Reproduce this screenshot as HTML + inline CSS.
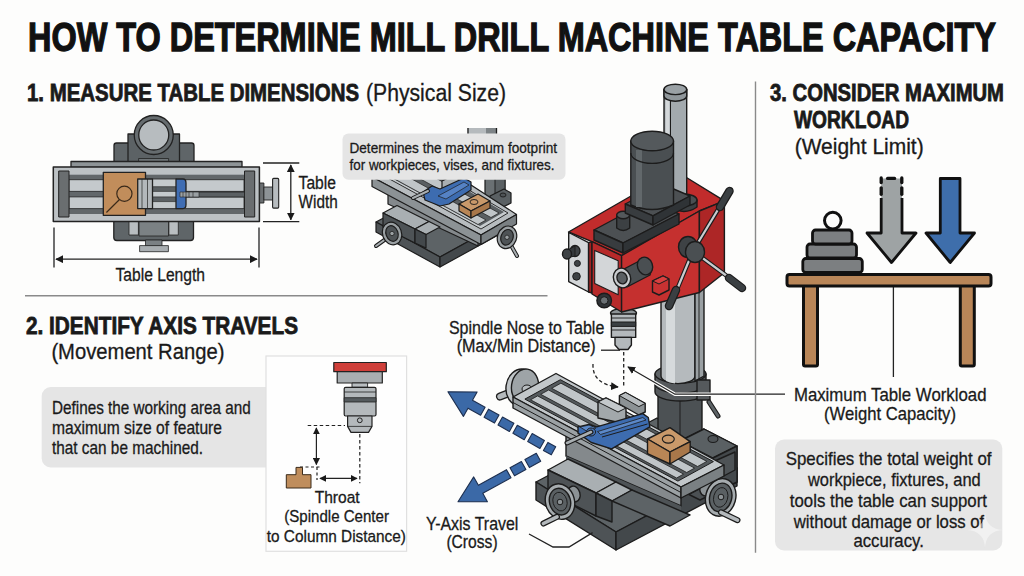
<!DOCTYPE html>
<html><head><meta charset="utf-8">
<style>
html,body{margin:0;padding:0;background:#fdfdfc;}
body{width:1024px;height:576px;overflow:hidden;position:relative;font-family:"Liberation Sans",sans-serif;}
svg{position:absolute;left:0;top:0;}
text{font-family:"Liberation Sans",sans-serif;fill:#1a1a1a;stroke:#1a1a1a;stroke-width:0.3px;}
.b{stroke-width:0.8px;}
.b{font-weight:bold;}
</style></head>
<body>
<svg width="1024" height="576" viewBox="0 0 1024 576">
<defs>
<marker id="ah" viewBox="0 0 10 10" refX="9" refY="5" markerWidth="6" markerHeight="6" orient="auto-start-reverse"><path d="M0,0 L10,5 L0,10 z" fill="#1a1a1a"/></marker>
</defs>
<rect x="0" y="0" width="1024" height="576" fill="#fdfdfc"/>

<!-- ============ TEXT HEADINGS ============ -->
<g id="headings">
<text class="b" x="28" y="51" font-size="40.5" textLength="968" lengthAdjust="spacingAndGlyphs" style="fill:#111;stroke:#111;stroke-width:1.3px">HOW TO DETERMINE MILL DRILL MACHINE TABLE CAPACITY</text>
<text class="b" x="27" y="100.5" font-size="24" textLength="332" lengthAdjust="spacingAndGlyphs">1. MEASURE TABLE DIMENSIONS</text>
<text x="366" y="100.5" font-size="23" textLength="140" lengthAdjust="spacingAndGlyphs">(Physical Size)</text>
<text class="b" x="26" y="333.8" font-size="24" textLength="272" lengthAdjust="spacingAndGlyphs">2. IDENTIFY AXIS TRAVELS</text>
<text x="51.4" y="359" font-size="21.5" textLength="173" lengthAdjust="spacingAndGlyphs">(Movement Range)</text>
<text class="b" x="770" y="100.5" font-size="24" textLength="234" lengthAdjust="spacingAndGlyphs">3. CONSIDER MAXIMUM</text>
<text class="b" x="794" y="128" font-size="24" textLength="115" lengthAdjust="spacingAndGlyphs">WORKLOAD</text>
<text x="794.7" y="154" font-size="21.5" textLength="129" lengthAdjust="spacingAndGlyphs">(Weight Limit)</text>
</g>


<!-- ============ SECTION 1 TABLE TOP VIEW ============ -->
<g id="sec1" stroke="#222" stroke-width="1.3" stroke-linejoin="round">
 <!-- column base -->
 <rect x="114" y="143" width="80" height="22" rx="2.5" fill="#5f6568"/>
 <rect x="128" y="134" width="51.5" height="30" fill="#5c6265"/>
 <rect x="138.6" y="158.5" width="30" height="4" fill="#6e7477" stroke-width="0.8"/>
 <circle cx="153.75" cy="135" r="19.5" fill="#666c6f"/>
 <circle cx="153.75" cy="135" r="15" fill="#b7bcbf"/>
 <!-- lower base -->
 <rect x="113.8" y="215" width="79.7" height="25.5" rx="3" fill="#5f6568"/>
 <rect x="129" y="219" width="9.4" height="16" fill="#b9bec1" stroke-width="0.8"/>
 <rect x="168.9" y="219" width="9.4" height="16" fill="#b9bec1" stroke-width="0.8"/>
 <rect x="139" y="219" width="29.5" height="17" fill="#7b8184" stroke-width="0.8"/>
 <rect x="145.5" y="240" width="16.5" height="6" fill="#7b8184" stroke-width="0.8"/>
 <rect x="139.6" y="245.6" width="28.8" height="6.1" fill="#a9aeb1" stroke-width="0.8"/>
 <!-- top strip -->
 <rect x="71" y="161.5" width="171" height="6" fill="#8d9396"/>
 <!-- table -->
 <rect x="53.3" y="167" width="206.1" height="54.5" fill="#bcc1c4" stroke-width="1.5"/>
 <rect x="58.7" y="174.7" width="191" height="39.3" fill="#62676a" stroke="none"/>
 <rect x="69" y="179.7" width="175" height="11.7" fill="#c4c9cc" stroke-width="0.8"/>
 <rect x="69" y="196.9" width="175" height="11.7" fill="#c4c9cc" stroke-width="0.8"/>
 <rect x="58.7" y="171" width="10.3" height="46" fill="#6a6e70" stroke-width="1"/>
 <rect x="244.5" y="171" width="10.2" height="46" fill="#6a6e70" stroke-width="1"/>
 <!-- workpiece -->
 <rect x="103.3" y="172.3" width="42.2" height="43" fill="#c18d5b"/>
 <circle cx="124.4" cy="193.7" r="7.6" fill="none" stroke="#3a2a1a" stroke-width="1.2"/>
 <line x1="119.5" y1="199.5" x2="106.4" y2="212.5" stroke="#3a2a1a" stroke-width="1.2"/>
 <!-- vise -->
 <rect x="152.5" y="179" width="24" height="29.6" fill="#c4c9cc" stroke-width="0.8"/>
 <rect x="152.5" y="186.7" width="24" height="4.7" fill="#5b6063" stroke-width="0.6"/>
 <rect x="152.5" y="196.9" width="24" height="4.7" fill="#5b6063" stroke-width="0.6"/>
 <rect x="137.7" y="179" width="14.8" height="29.6" fill="#b3b8bb"/>
 <line x1="142" y1="179" x2="142" y2="208.6" stroke-width="0.7"/>
 <line x1="147.5" y1="179" x2="147.5" y2="208.6" stroke-width="0.7"/>
 <path d="M176,179 H183 Q186,179 186,183 V204.6 Q186,208.6 183,208.6 H176 Z" fill="#3f6db3"/>
 <rect x="186" y="192" width="58.5" height="5" fill="#5b6063" stroke-width="0.8"/>
 <rect x="180" y="192" width="19" height="5" fill="#9aa0a3" stroke-width="0.6"/>
 <line x1="183" y1="192" x2="183" y2="197" stroke-width="0.6"/><line x1="186" y1="192" x2="186" y2="197" stroke-width="0.6"/><line x1="189" y1="192" x2="189" y2="197" stroke-width="0.6"/><line x1="193" y1="192" x2="193" y2="197" stroke-width="0.6"/>
 <!-- handwheel -->
 <rect x="259.6" y="183" width="4.3" height="20" fill="#6a6e70" stroke-width="0.9"/>
 <rect x="263.9" y="187" width="8.7" height="13" fill="#8d9396" stroke-width="0.9"/>
 <rect x="272.6" y="178.4" width="6.1" height="29.7" rx="1" fill="#b7bcbf" stroke-width="1.1"/>
</g>
<!-- dimension lines sec1 -->
<g stroke="#222" stroke-width="1.3" fill="none">
 <line x1="263" y1="163" x2="299.3" y2="163"/>
 <line x1="263" y1="221.7" x2="299.3" y2="221.7"/>
 <line x1="290.8" y1="165" x2="290.8" y2="219.7" marker-start="url(#ah)" marker-end="url(#ah)"/>
 <line x1="54" y1="227.6" x2="54" y2="267.4"/>
 <line x1="259" y1="227.6" x2="259" y2="267.4"/>
 <line x1="56" y1="259.2" x2="257" y2="259.2" marker-start="url(#ah)" marker-end="url(#ah)"/>
</g>
<text x="298.6" y="189.1" font-size="18" textLength="37.4" lengthAdjust="spacingAndGlyphs">Table</text>
<text x="298.6" y="207.7" font-size="18" textLength="39.1" lengthAdjust="spacingAndGlyphs">Width</text>
<text x="115.5" y="280.9" font-size="18" textLength="89.5" lengthAdjust="spacingAndGlyphs">Table Length</text>


<!-- ============ SECTION 3 ============ -->
<g id="sec3" stroke="#111" stroke-linejoin="round">
 <!-- table legs -->
 <rect x="803.5" y="284" width="14" height="82" rx="1.5" fill="#b98658" stroke-width="3"/>
 <rect x="960.3" y="284" width="14" height="82" rx="1.5" fill="#b98658" stroke-width="3"/>
 <line x1="893.4" y1="286" x2="893.4" y2="377" stroke="#222" stroke-width="1.3"/>
 <!-- table top -->
 <rect x="787" y="274.5" width="204" height="11.5" rx="2.5" fill="#b98658" stroke-width="3"/>
 <!-- weights -->
 <circle cx="832.8" cy="220.6" r="8.3" fill="#fdfdfc" stroke-width="3"/>
 <rect x="802.8" y="258.5" width="59.5" height="14" rx="3" fill="#7c7f81" stroke-width="2.8"/>
 <rect x="807" y="244" width="49.5" height="14" rx="3" fill="#7c7f81" stroke-width="2.8"/>
 <rect x="812.5" y="230" width="39.5" height="14" rx="3" fill="#7c7f81" stroke-width="2.8"/>
 <!-- gray arrow -->
 <path d="M881.2,178.5 H902 V233 H916 L891.5,262.5 L867,233 H881.2 Z" fill="#9ea3a4" stroke="none"/>
 <path d="M881.2,198 V233 H867 L891.5,262.5 L916,233 H902 V198" fill="none" stroke-width="2.8"/>
 <g stroke-width="3.3" stroke-linecap="round">
  <line x1="881.2" y1="178" x2="881.2" y2="182.5"/><line x1="901.8" y1="178" x2="901.8" y2="182.5"/>
  <line x1="887.6" y1="178.4" x2="894.6" y2="178.4"/>
  <line x1="881.2" y1="187.8" x2="881.2" y2="194.3"/><line x1="901.8" y1="187.8" x2="901.8" y2="194.3"/>
 </g>
 <!-- blue arrow -->
 <path d="M940.3,178.5 H960 V233 H974.5 L950.2,262.5 L926,233 H940.3 Z" fill="#3e6eab" stroke-width="2.8"/>
</g>
<line x1="676" y1="394.2" x2="785" y2="394.2" stroke="#222" stroke-width="1.3"/>
<text x="793.9" y="400.6" font-size="19" textLength="192.6" lengthAdjust="spacingAndGlyphs">Maximum Table Workload</text>
<text x="824" y="420.2" font-size="19" textLength="132" lengthAdjust="spacingAndGlyphs">(Weight Capacity)</text>
<rect x="775" y="439.5" width="227.3" height="111" rx="9" fill="#e6e6e6"/>
<g font-size="18.6">
<text x="785.7" y="464.7" textLength="205.8" lengthAdjust="spacingAndGlyphs">Specifies the total weight of</text>
<text x="808" y="485.5" textLength="172.7" lengthAdjust="spacingAndGlyphs">workpiece, fixtures, and</text>
<text x="789.8" y="506.6" textLength="197.2" lengthAdjust="spacingAndGlyphs">tools the table can support</text>
<text x="793.8" y="527.5" textLength="190.4" lengthAdjust="spacingAndGlyphs">without damage or loss of</text>
<text x="853.4" y="547.3" textLength="70.4" lengthAdjust="spacingAndGlyphs">accuracy.</text>
</g>
<path d="M985,512 Q986,529 1003,530 Q986,531 985,548 Q984,531 967,530 Q984,529 985,512 Z" fill="#fbfbfb" opacity="0.5"/>




<!-- ============ SMALL ISO MACHINE ============ -->
<g id="small" stroke="#1c1c1c" stroke-width="1.2" stroke-linejoin="round">
 <!-- column -->
 <rect x="467.5" y="128" width="29.5" height="10" fill="#b5babd" stroke="none"/>
 <rect x="486" y="128" width="11" height="10" fill="#7e8487" stroke="none"/>
 <line x1="468" y1="128" x2="468" y2="138" stroke-width="1.3"/><line x1="496.5" y1="128" x2="496.5" y2="138" stroke-width="1.3"/>
 <path d="M485,170 V200 H505 V170 Z" fill="#6a7073"/>
 <path d="M495,170 V200 H505 V170 Z" fill="#5a6063" stroke-width="0.9"/>
 <path d="M490,196 L504,189 L511,193 L511,203 L497,210 L490,206 Z" fill="#5a6063"/>
 <ellipse cx="503" cy="195" rx="3" ry="2" fill="#4e5356" stroke-width="0.9"/>
 <!-- base -->
 <path d="M376,222 L436,190 L500,224 L440,257 Z" fill="#5d6366"/>
 <path d="M376,222 L440,257 L440,267 L376,232 Z" fill="#4e5356"/>
 <path d="M440,257 L500,224 L500,234 L440,267 Z" fill="#43484b"/>
 <!-- saddle face under table -->
 <path d="M388,189 L478,237 L478,246 L388,204 Z" fill="#84898c"/>
 <!-- ways block -->
 <path d="M383,213 L397,205.5 L429,221.5 L415,229 Z" fill="#a9afb2"/>
 <path d="M383,213 L415,229 L415,243 L383,227 Z" fill="#4e5356"/>
 <path d="M415,229 L429,221.5 L440,227 L426,234.5 Z" fill="#a9afb2"/>
 <path d="M415,229 L426,234.5 L426,248 L415,243 Z" fill="#43484b"/>
 <!-- table -->
 <path d="M372,177 L420,152 L516.5,214.4 L481,235 Z" fill="#b7bcbf"/>
 <path d="M372,177 L481,235 L481,244.5 L372,186.5 Z" fill="#8c9295"/>
 <path d="M481,235 L516.5,214.4 L516.5,224 L481,244.5 Z" fill="#7a8083"/>
 <path d="M384,176 L416,159 L508,213 L481,229 Z" fill="#c6cbce" stroke-width="0.9"/>
 <path d="M388,176 L418,161 L504,212 L480,226 Z" fill="#5a5f62" stroke="none"/>
 <path d="M391,177 L400,172.5 L486,220 L478,224.5 Z" fill="#c0c5c8" stroke-width="0.7"/>
 <path d="M404,170 L413,165.5 L499,213 L491,217.5 Z" fill="#c0c5c8" stroke-width="0.7"/>
 <!-- vise -->
 <path d="M442,181 L452,176 L462,181 L462,188 L452,193 L442,188 Z" fill="#a9afb2"/>
 <path d="M423,192 L432,186 L440,189 L464,178 L471,182 L471,190 L449,204 L440,206 L425,200 Z" fill="#3d6cb0"/>
 <path d="M438,196 L464,182 L469,185 L446,199 Z" fill="#5582c4" stroke-width="0.7"/>
 <line x1="413" y1="198" x2="428" y2="191" stroke="#1c1c1c" stroke-width="4" stroke-linecap="round"/>
 <line x1="413" y1="198" x2="428" y2="191" stroke="#a9afb2" stroke-width="2" stroke-linecap="round"/>
 <!-- workpiece -->
 <path d="M459,204 L478,194 L490,201 L471,211 Z" fill="#c9996a"/>
 <path d="M459,204 L471,211 L471,218 L459,211 Z" fill="#b98656"/>
 <path d="M471,211 L490,201 L490,208 L471,218 Z" fill="#a8774a"/>
 <ellipse cx="474" cy="202" rx="4" ry="2.5" fill="none" stroke-width="0.9"/>
 <!-- handwheels -->
 <line x1="390" y1="236" x2="376" y2="246" stroke="#1c1c1c" stroke-width="4" stroke-linecap="round"/>
 <line x1="390" y1="236" x2="376" y2="246" stroke="#a9afb2" stroke-width="2" stroke-linecap="round"/>
 <ellipse cx="392" cy="233.5" rx="9.5" ry="11.5" fill="#9aa0a3" transform="rotate(-20 392 233.5)"/>
 <ellipse cx="392" cy="233.5" rx="6" ry="8" fill="#4e5356" transform="rotate(-20 392 233.5)"/>
 <circle cx="392" cy="233.5" r="2.2" fill="#9aa0a3" stroke-width="0.8"/>
 <line x1="508" y1="240" x2="517" y2="256" stroke="#1c1c1c" stroke-width="4" stroke-linecap="round"/>
 <line x1="508" y1="240" x2="517" y2="256" stroke="#a9afb2" stroke-width="2" stroke-linecap="round"/>
 <ellipse cx="507" cy="237.3" rx="9.5" ry="11.5" fill="#9aa0a3" transform="rotate(20 507 237.3)"/>
 <ellipse cx="507" cy="237.3" rx="6" ry="8" fill="#4e5356" transform="rotate(20 507 237.3)"/>
 <circle cx="507" cy="237.3" r="2.2" fill="#9aa0a3" stroke-width="0.8"/>
</g>
<rect x="342.5" y="133.4" width="223" height="46.4" rx="6" fill="#e5e5e5"/>
<g font-size="14.8">
<text x="349.5" y="153" textLength="207.5" lengthAdjust="spacingAndGlyphs">Determines the maximum footprint</text>
<text x="349.5" y="170.4" textLength="205" lengthAdjust="spacingAndGlyphs">for workpieces, vises, and fixtures.</text>
</g>

<!-- ============ BIG MACHINE ============ -->
<g id="big" stroke="#1c1c1c" stroke-width="1.4" stroke-linejoin="round">
 <!-- base / base slab -->
 <path d="M536,482 L657,418 L737,468 L616,532 Z" fill="#5d6366"/>
 <path d="M536,482 L616,532 L616,550 L536,500 Z" fill="#4e5356"/>
 <path d="M616,532 L737,468 L737,486 L616,550 Z" fill="#43484b"/>
 <!-- lower column dark base -->
 <path d="M658,392 V446 L680,452 L702,446 V392 Z" fill="#4c5154"/>
 <line x1="680" y1="400" x2="680" y2="452" stroke-width="1"/>
 <path d="M680,441 L704,429 L737,446 L737,482 L700,500 L680,490 Z" fill="#4b5053"/>
 <path d="M680,441 L704,429 L737,446 L713,458 Z" fill="#5a6063"/>
 <path d="M713,458 L737,446 L737,482 L713,494 Z" fill="#43484b"/>
 <ellipse cx="713" cy="439" rx="5" ry="3.5" fill="#4e5356" stroke-width="1.1"/>
 <!-- saddle under table -->
 <path d="M566,435 L681,497 L681,506 L566,456 Z" fill="#84898c"/>
 <path d="M566,456 L681,506 L681,512 L566,462 Z" fill="#4e5356" stroke="none"/>
 <path d="M690,472 L735,452 L735,470 L690,494 Z" fill="#4e5356"/>
 <!-- ways block on base -->
 <path d="M548,470 L568,459 L616,482 L596,493 Z" fill="#a9afb2"/>
 <path d="M548,470 L596,493 L596,516 L548,492 Z" fill="#4e5356"/>
 <path d="M596,493 L616,482 L632,490 L612,501 Z" fill="#a9afb2"/>
 <path d="M596,493 L612,501 L612,522 L596,516 Z" fill="#43484b"/>
 <path d="M612,501 L632,490 L690,515 L670,526 Z" fill="#5d6366"/>
 <!-- left base handwheel -->
 <ellipse cx="574" cy="494" rx="6" ry="8" fill="#8c9295" transform="rotate(-15 574 494)"/>
 <ellipse cx="560" cy="501.6" rx="14.5" ry="18" fill="#a6acaf" transform="rotate(-15 560 501.6)"/>
 <ellipse cx="560" cy="501.6" rx="10.5" ry="13.5" fill="#5a6063" transform="rotate(-15 560 501.6)"/>
 <ellipse cx="560" cy="501.6" rx="7" ry="9.5" fill="none" stroke-width="0.9" transform="rotate(-15 560 501.6)"/>
 <circle cx="560" cy="502" r="2.8" fill="#8c9295" stroke-width="1"/>
 <line x1="557" y1="516.8" x2="543.4" y2="523.5" stroke="#1c1c1c" stroke-width="6" stroke-linecap="round"/>
 <line x1="557" y1="516.8" x2="543.4" y2="523.5" stroke="#b4b9bc" stroke-width="3.6" stroke-linecap="round"/>
 <!-- right base handwheel -->
 <ellipse cx="706" cy="488" rx="6" ry="8" fill="#8c9295" transform="rotate(15 706 488)"/>
 <ellipse cx="720.7" cy="497.4" rx="15" ry="19" fill="#a6acaf" transform="rotate(15 720.7 497.4)"/>
 <ellipse cx="720.7" cy="497.4" rx="11" ry="14.5" fill="#5a6063" transform="rotate(15 720.7 497.4)"/>
 <ellipse cx="720.7" cy="497.4" rx="7" ry="10" fill="none" stroke-width="0.9" transform="rotate(15 720.7 497.4)"/>
 <circle cx="721" cy="497" r="2.8" fill="#8c9295" stroke-width="1"/>
 <line x1="721" y1="512.3" x2="737.5" y2="520.2" stroke="#1c1c1c" stroke-width="6" stroke-linecap="round"/>
 <line x1="721" y1="512.3" x2="737.5" y2="520.2" stroke="#b4b9bc" stroke-width="3.6" stroke-linecap="round"/>
 <!-- table left handwheel -->
 <line x1="509" y1="393" x2="500" y2="396.5" stroke="#1c1c1c" stroke-width="8" stroke-linecap="round"/>
 <line x1="509" y1="393" x2="500" y2="396.5" stroke="#b4b9bc" stroke-width="5.5" stroke-linecap="round"/>
 <ellipse cx="521" cy="387.5" rx="15" ry="18.5" fill="#c0c5c8" transform="rotate(8 521 387.5)"/>
 <ellipse cx="525" cy="386.5" rx="13.5" ry="17.5" fill="#9ea4a7" transform="rotate(8 525 386.5)"/>
 <ellipse cx="527" cy="389" rx="5" ry="4" fill="#b7bcbf" stroke-width="1"/>
 <!-- table -->
 <path d="M513,397 L556,373.5 L724,465 L681,487 Z" fill="#c2c7ca"/>
 <path d="M513,397 L681,487 L681,498 L513,408 Z" fill="#9ba1a4"/>
 <path d="M513,402.5 L681,492.5" fill="none" stroke-width="1"/>
 <path d="M681,487 L724,465 L724,476 L681,498 Z" fill="#7a8083"/>
 <!-- table inner slots -->
 <path d="M524.9,399.1 L677.9,481.1 L713.4,461.6 L560.4,379.7 Z" fill="#54595c" stroke-width="1"/>
 <path d="M530.6,399.8 L676.6,478.0 L683.6,474.1 L537.6,395.9 Z" fill="#c0c5c8" stroke-width="0.8"/>
 <path d="M540.7,394.3 L686.7,472.5 L694.6,468.1 L548.6,390.0 Z" fill="#c0c5c8" stroke-width="0.8"/>
 <path d="M551.7,388.3 L697.6,466.5 L706.8,461.4 L560.9,383.2 Z" fill="#c0c5c8" stroke-width="0.8"/>
 <!-- vise -->
 <path d="M598,402 L606,398 L626,408 L626,424 L598,418 Z" fill="#a2a8ab"/>
 <path d="M598,402 L606,398 L626,408 L618,412 Z" fill="#c3c8cb" stroke-width="1"/>
 <path d="M619.4,395.6 L625.6,392.5 L645.2,403.4 L645.2,412 L638.9,415 L619.4,404 Z" fill="#8c9295"/>
 <path d="M619.4,395.6 L625.6,392.5 L645.2,403.4 L638.9,406.6 Z" fill="#b7bcbf" stroke-width="1"/>
 <path d="M578,426.9 L588.9,424.5 L596.7,426.9 L642.8,413.6 L648.3,417.5 L649.8,426.9 L611.6,448.8 L591.3,442.5 L578,433.1 Z" fill="#3d6cb0"/>
 <path d="M597.5,431.6 L642.8,417.5 L646,420 L600.6,434.5 Z" fill="#5b88c8" stroke-width="0.8"/>
 <path d="M602,437 L647.5,424" fill="none" stroke-width="1"/>
 <path d="M580,427 L589,425 L596,428 L588,432 Z" fill="#5b88c8" stroke-width="0.8"/>
 <ellipse cx="591" cy="432" rx="4.5" ry="4" fill="#4a78ba" stroke-width="1"/>
 <line x1="567" y1="443" x2="591" y2="432" stroke="#1c1c1c" stroke-width="5" stroke-linecap="round"/>
 <line x1="567" y1="443" x2="591" y2="432" stroke="#a9afb2" stroke-width="2.6" stroke-linecap="round"/>
 <!-- workpiece -->
 <path d="M647.5,439 L670,427.7 L690.2,441.6 L670,452 Z" fill="#c9996a"/>
 <path d="M647.5,439 L670,452 L670,464 L647.5,453.7 Z" fill="#b98656"/>
 <path d="M670,452 L690.2,441.6 L690.2,452 L670,464 Z" fill="#a8774a"/>
 <ellipse cx="668.3" cy="439.1" rx="6" ry="4" fill="none" stroke-width="1.1"/>
 <!-- collar -->
 <path d="M655,374 V392 A25.5,9 0 0 0 706,392 V374 Z" fill="#55595c"/>
 <path d="M655,384 A25.5,9 0 0 0 706,384" fill="none" stroke-width="1.1"/>
 <ellipse cx="680.5" cy="374" rx="25.5" ry="9" fill="#5f6467"/>
 <!-- lower column -->
 <path d="M661,280 V376 A17,7.6 0 0 0 695,376 V280 Z" fill="#b5babd"/>
 <path d="M666,280 V381 Q669,382.5 675,383.5 V280 Z" fill="#d6dadc" stroke="none"/>
 <path d="M695,280 V381 L704,376 V280 Z" fill="#9aa0a3"/>
 <line x1="699" y1="280" x2="699" y2="379" stroke-width="0.9"/>
 <rect x="697" y="380" width="13" height="20" fill="#55595c"/>
 <line x1="709" y1="402" x2="718" y2="416" stroke="#1c1c1c" stroke-width="5" stroke-linecap="round"/>
 <line x1="709" y1="402" x2="718" y2="416" stroke="#5d6366" stroke-width="2.8" stroke-linecap="round"/>
 <!-- chuck -->
 <ellipse cx="623.5" cy="313" rx="13" ry="4.5" fill="#8c9295"/>
 <path d="M611.4,314 V337.4 H635.7 V314 Z" fill="#b4b9bc"/>
 <path d="M611.4,322 H635.7 V326.4 H611.4 Z" fill="#3b4043" stroke-width="1"/>
 <line x1="611.4" y1="318" x2="635.7" y2="318" stroke-width="0.9"/>
 <line x1="611.4" y1="330" x2="635.7" y2="330" stroke-width="0.9"/>
 <path d="M615,337.4 V345 L619,349.5 H628 L631.4,345 V337.4 Z" fill="#b4b9bc"/>
 <!-- head top face -->
 <path d="M568.5,232 L631,196 L660,182 L684,176 L724.4,200.8 L699.4,211 L621.6,255.6 L592,241.7 Z" fill="#c12c2c"/>
 <!-- upper column -->
 <path d="M664,89.4 V203 H686.7 V89.4 Z" fill="#a3aaae"/>
 <path d="M665.5,93 V203 H669.5 V93 Z" fill="#d4d8da" stroke="none"/>
 <line x1="670.5" y1="95" x2="670.5" y2="203" stroke-width="1"/>
 <path d="M664,89.4 V96 A11.35,5.2 0 0 0 686.7,96 V89.4 Z" fill="#8f969a"/>
 <ellipse cx="675.35" cy="89.4" rx="11.35" ry="5.2" fill="#9aa1a5"/>
 <!-- column collar at head top -->
 <path d="M671,200 V207 Q684,216 697,207 V200 Z" fill="#3b3f42"/>
 <ellipse cx="684" cy="200" rx="13" ry="6" fill="#4a4f52"/>
 <path d="M664,200 Q675,206 686.7,200" fill="#a3aaae" stroke-width="1"/>
 <!-- left small box face with panel -->
 <path d="M568.7,232.5 L588.6,242.6 L588.6,292 L568.7,281.6 Z" fill="#d3d6d8"/>
 <path d="M588.6,242.6 L592,241.7 L592,293 L588.6,292 Z" fill="#9e2222"/>
 <!-- main left face -->
 <path d="M592,241.7 L621.6,255.6 L621.6,312 L592,294 Z" fill="#b72a2a"/>
 <path d="M594.7,250.4 L618.2,260.8 L618.2,294.7 L594.7,283.4 Z" fill="#d3d6d8" stroke-width="1.1"/>
 <!-- main right face -->
 <path d="M621.6,255.6 L699.4,211 L699.4,292.5 L621.6,312 Z" fill="#c5302f"/>
 <path d="M699.4,211 L724.4,200.8 L724.4,272.7 L699.4,292.5 Z" fill="#ad2626"/>
 <!-- small red block -->
 <path d="M652.5,281 L663,276 L669,279 L669,290 L659,295 L652.5,292 Z" fill="#c83232"/>
 <path d="M652.5,281 L663,276 L669,279 L659,284 Z" fill="#d84040" stroke-width="1"/>
 <!-- black plate -->
 <path d="M594,230 L650,200 L679,214 L623,243 Z" fill="#4c5053"/>
 <path d="M594,230 L623,243 L623,253 L594,240 Z" fill="#383c3f"/>
 <path d="M623,243 L679,214 L679,224 L623,253 Z" fill="#2f3336"/>
 <!-- small knob on plate -->
 <path d="M616.7,215 V228 Q623.2,233 629.7,228 V215 Z" fill="#3c4043"/>
 <ellipse cx="623.2" cy="215" rx="6.5" ry="3.8" fill="#53585b"/>
 <!-- motor base plate -->
 <path d="M625.3,204 L662,184 L690,196 L653,215.8 Z" fill="#4c5053"/>
 <path d="M625.3,204 L653,215.8 L653,225 L625.3,213 Z" fill="#383c3f"/>
 <path d="M653,215.8 L690,196 L690,205 L653,225 Z" fill="#2f3336"/>
 <!-- motor -->
 <path d="M630.8,141 V205 Q652,214 673.5,205 V141 Z" fill="#4a4f52"/>
 <path d="M636,150 V207 H642 V150 Z" fill="#62686b" stroke="none"/>
 <path d="M630.8,153 A21.35,10.4 0 0 0 673.5,153" fill="none" stroke-width="1.3"/>
 <ellipse cx="652.15" cy="141" rx="21.35" ry="9.8" fill="#54595c"/>
 <!-- knobs on left panel -->
 <ellipse cx="575" cy="251" rx="5" ry="5.5" fill="#3e4245"/>
 <path d="M566,251 L575,246 L575,256 L566,258 Z" fill="#34383b" stroke-width="1"/>
 <ellipse cx="567" cy="254" rx="4.5" ry="5" fill="#3e4245"/>
 <circle cx="577.4" cy="263.4" r="3" fill="#3e4245" stroke-width="1"/>
 <circle cx="576.5" cy="276.4" r="3.8" fill="#3e4245" stroke-width="1"/>
 <!-- round boss protrusion -->
 <path d="M622,270 L645,258 Q654,262 650,275 L627,287 Z" fill="#4a4f52"/>
 <ellipse cx="645" cy="266" rx="7.5" ry="9" fill="#4a4f52" transform="rotate(-20 645 266)"/>
 <ellipse cx="622" cy="278" rx="8.5" ry="10" fill="#c9cccf" transform="rotate(-20 622 278)"/>
 <ellipse cx="622" cy="278" rx="5" ry="6" fill="#5a5f62" transform="rotate(-20 622 278)"/>
 <!-- bottom knob -->
 <circle cx="604.2" cy="300.5" r="7.3" fill="#2f3336"/>
 <circle cx="604.2" cy="300.5" r="3.8" fill="#6a7073" stroke-width="1"/>
 <!-- feed hub spokes -->
 <g stroke-linecap="round">
  <line x1="693" y1="251" x2="722" y2="203" stroke="#1c1c1c" stroke-width="4.5"/>
  <line x1="693" y1="251" x2="722" y2="203" stroke="#c9cccf" stroke-width="2.2"/>
  <line x1="693" y1="251" x2="731" y2="279" stroke="#1c1c1c" stroke-width="4.5"/>
  <line x1="693" y1="251" x2="731" y2="279" stroke="#c9cccf" stroke-width="2.2"/>
  <line x1="693" y1="251" x2="676" y2="292" stroke="#1c1c1c" stroke-width="4.5"/>
  <line x1="693" y1="251" x2="676" y2="292" stroke="#c9cccf" stroke-width="2.2"/>
  <line x1="720" y1="207" x2="729.5" y2="191" stroke="#1c1c1c" stroke-width="8.5"/>
  <line x1="720" y1="207" x2="729.5" y2="191" stroke="#3a3f42" stroke-width="6"/>
  <line x1="729" y1="278" x2="742" y2="288" stroke="#1c1c1c" stroke-width="8.5"/>
  <line x1="729" y1="278" x2="742" y2="288" stroke="#3a3f42" stroke-width="6"/>
  <line x1="676" y1="290" x2="669" y2="306" stroke="#1c1c1c" stroke-width="8.5"/>
  <line x1="676" y1="290" x2="669" y2="306" stroke="#3a3f42" stroke-width="6"/>
 </g>
 <ellipse cx="688" cy="247" rx="9.5" ry="10.5" fill="#3e4245"/>
 <ellipse cx="695" cy="252" rx="9.5" ry="10.5" fill="#4a4f52"/>
</g>


<!-- ============ BIG MACHINE LABELS ============ -->
<g font-size="17.6">
<text x="448.9" y="333.8" textLength="155.4" lengthAdjust="spacingAndGlyphs">Spindle Nose to Table</text>
<text x="456.7" y="352.3" textLength="139" lengthAdjust="spacingAndGlyphs">(Max/Min Distance)</text>
</g>
<g stroke="#222" stroke-width="1.3" fill="none">
 <line x1="601" y1="350.2" x2="620" y2="350.2"/>
 <line x1="623.7" y1="352" x2="623.7" y2="388" stroke-dasharray="3.5 2.5"/>
 <path d="M593,364 Q592,384 618,387" stroke-dasharray="3.5 2.5" marker-end="url(#ah)"/>
 <path d="M785,394.2 H675 L628,367" stroke="#fdfdfc" stroke-width="3.6"/>
 <path d="M785,394.2 H675 L628,367" marker-end="url(#ah)"/>
 <path d="M529,534 L553,547 H569 L592.6,532.6"/>
</g>
<!-- Y axis arrows -->
<g fill="#3b69a7" stroke="#1d2f4f" stroke-width="1.1" stroke-linejoin="round">
<path d="M447.9,391.7 L463.4,416.4 L468.0,408.2 L480.6,415.2 L485.1,407.2 L472.5,400.2 L477.1,392.0 Z"/>
<path d="M484.1,417.2 L494.5,423.1 L499.0,415.0 L488.5,409.2 Z"/>
<path d="M498.0,425.0 L509.4,431.4 L513.9,423.3 L502.5,417.0 Z"/>
<path d="M512.9,433.3 L524.2,439.7 L528.7,431.6 L517.3,425.3 Z"/>
<path d="M527.7,441.6 L539.9,448.4 L544.4,440.4 L532.2,433.6 Z"/>
<path d="M543.4,450.4 L551.3,454.8 L555.7,446.8 L547.9,442.4 Z"/>
<path d="M458.0,501.8 L487.4,501.7 L482.8,493.3 L511.0,477.8 L506.5,469.7 L478.4,485.3 L473.7,476.9 Z"/>
<path d="M514.5,475.8 L525.9,469.5 L521.4,461.5 L510.0,467.8 Z"/>
<path d="M529.4,467.6 L540.7,461.3 L536.3,453.3 L524.9,459.6 Z"/>
</g>
<g font-size="18.6">
<text x="426" y="530" textLength="92.4" lengthAdjust="spacingAndGlyphs">Y-Axis Travel</text>
<text x="446.4" y="548.3" textLength="51.2" lengthAdjust="spacingAndGlyphs">(Cross)</text>
</g>

<!-- ============ SECTION 2 LEFT ============ -->
<rect x="41.7" y="387" width="240" height="80.5" rx="9" fill="#e5e5e5"/>
<g font-size="18.4">
<text x="52" y="413.7" textLength="198.7" lengthAdjust="spacingAndGlyphs">Defines the working area and</text>
<text x="52" y="433.8" textLength="170" lengthAdjust="spacingAndGlyphs">maximum size of feature</text>
<text x="52" y="453.6" textLength="151" lengthAdjust="spacingAndGlyphs">that can be machined.</text>
</g>
<!-- throat panel -->
<rect x="266" y="356" width="140.6" height="195.3" fill="#fefefe" stroke="#e0e0e0" stroke-width="1.2"/>
<g stroke="#222" stroke-width="1.2" stroke-linejoin="round">
 <rect x="333.8" y="362.5" width="52.5" height="9.2" fill="#cf3f3a"/>
 <rect x="337.2" y="371.7" width="45.1" height="11.3" fill="#a9aeb1"/>
 <rect x="352" y="383" width="15.6" height="4.3" fill="#b9bec1" stroke-width="0.9"/>
 <rect x="344.2" y="387.3" width="31.8" height="28.7" rx="1.5" fill="#b4b9bc"/>
 <rect x="344.2" y="397.7" width="31.8" height="4.3" fill="#555b5e" stroke-width="0.8"/>
 <line x1="344.2" y1="392" x2="376" y2="392" stroke-width="0.8"/>
 <path d="M347.6,416 H372 V426.4 L368.5,432.4 H351 L347.6,426.4 Z" fill="#b4b9bc"/>
 <line x1="347.6" y1="426.4" x2="372" y2="426.4" stroke-width="0.8"/>
 <circle cx="359.8" cy="420.3" r="2.4" fill="none" stroke-width="1"/>
</g>
<g stroke="#222" stroke-width="1.2" fill="none">
 <line x1="307.7" y1="425.5" x2="345" y2="425.5" stroke-dasharray="3.5 2.5"/>
 <line x1="359.8" y1="434" x2="359.8" y2="483.2" stroke-dasharray="3.5 2.5"/>
 <line x1="300" y1="467" x2="321" y2="467" stroke-dasharray="3 2.5"/>
 <line x1="317" y1="467" x2="317" y2="480" stroke-dasharray="3 2.5"/>
 <line x1="316.4" y1="428" x2="316.4" y2="464.5" marker-start="url(#ah)" marker-end="url(#ah)"/>
 <line x1="320" y1="478.4" x2="357" y2="478.4" marker-start="url(#ah)" marker-end="url(#ah)"/>
</g>
<path d="M286.3,474.7 H296 V467.4 H302.5 V474.7 H311 V488 H286.3 Z" fill="#bf8d5c" stroke="#3a2a1a" stroke-width="1"/>
<g font-size="16.8">
<text x="314.7" y="503.2" textLength="45" lengthAdjust="spacingAndGlyphs">Throat</text>
<text x="284.3" y="522.3" textLength="104.6" lengthAdjust="spacingAndGlyphs">(Spindle Center</text>
<text x="266.8" y="541.6" textLength="139.1" lengthAdjust="spacingAndGlyphs">to Column Distance)</text>
</g>

<!-- dividers -->
<line x1="25" y1="295.8" x2="547.5" y2="295.8" stroke="#8a8a8a" stroke-width="1.4"/>
<line x1="755.5" y1="81.4" x2="755.5" y2="552.8" stroke="#8a8a8a" stroke-width="1.4"/>

</svg>
</body></html>
